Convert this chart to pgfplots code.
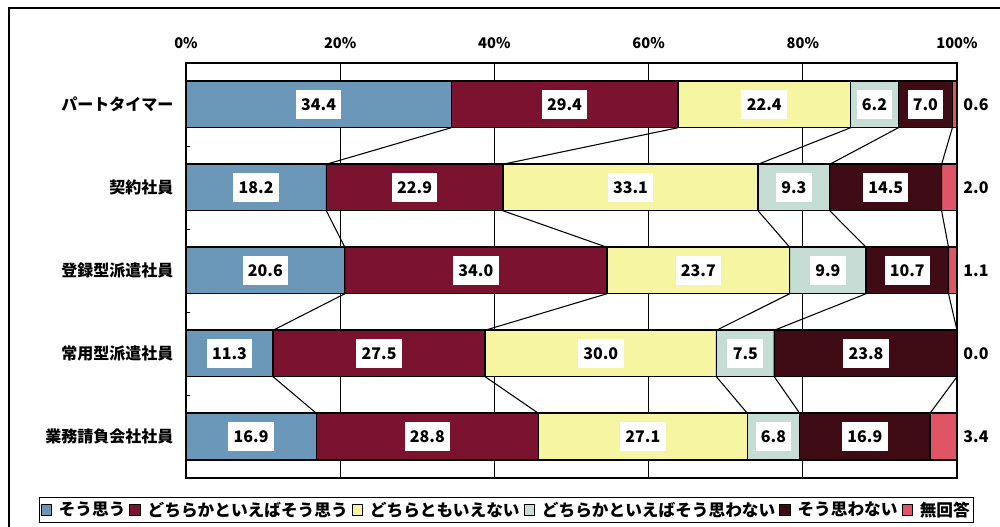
\documentclass[border=0pt]{standalone}
\usepackage{fontspec}
\setmainfont{Noto Sans CJK JP}
\usepackage{pgfplots}
\pgfplotsset{compat=1.18}

\definecolor{c1}{HTML}{6B97B8}
\definecolor{c2}{HTML}{7B1230}
\definecolor{c3}{HTML}{F6F6A2}
\definecolor{c4}{HTML}{C6DDD6}
\definecolor{c5}{HTML}{3F0B15}
\definecolor{c6}{HTML}{E05566}

\begin{document}
\begin{tikzpicture}
% page = 1000x527 px at 0.75pt per px, axis box origin at px (186,478)
\useasboundingbox (-139.5pt,-36.75pt) rectangle (610.5pt,358.5pt);
\draw[line width=1.3pt] (615pt,352.5pt) -- (-132.75pt,352.5pt) -- (-132.75pt,-40pt);

\begin{axis}[
  at={(0,0)}, anchor=south west,
  scale only axis, width=578.25pt, height=311.25pt,
  xbar stacked, bar width=35pt,
  xmin=0, xmax=100, ymin=-0.5, ymax=4.5, y dir=reverse,
  axis line style={line width=1.1pt},
  xtick={0,20,40,60,80,100},
  xticklabels={0\%,20\%,40\%,60\%,80\%,100\%},
  xticklabel pos=upper, xtick pos=upper,
  major x tick style={draw=none},
  xticklabel style={font=\bfseries\fontsize{11}{11}\selectfont, yshift=7pt},
  xmajorgrids, major grid style={black, line width=0.8pt},
  ytick={0,1,2,3,4},
  yticklabels={パートタイマー,契約社員,登録型派遣社員,常用型派遣社員,業務請負会社社員},
  yticklabel style={font=\bfseries\fontsize{12}{12}\selectfont, xshift=-6pt},
  ytick pos=left,
  major y tick style={draw=none},
  minor ytick={0.5,1.5,2.5,3.5},
  minor tick length=3pt,
  minor y tick style={black, line width=0.7pt},
  legend columns=6,
  legend style={at={(axis description cs:0.4157,-0.046)}, anchor=north,
    draw=black, line width=0.9pt, inner sep=1pt,
    font=\bfseries\fontsize{12.5}{13}\selectfont,
    /tikz/every even column/.append style={column sep=1pt},
    /tikz/every odd column/.append style={column sep=3pt}},
  legend image code/.code={\draw[#1, draw=black, line width=0.7pt] (0pt,-4pt) rectangle (8pt,4pt);},
]
\addplot[fill=c1, draw=black, line width=1pt] coordinates {(34.4,0) (18.2,1) (20.6,2) (11.3,3) (16.9,4)};
\addplot[fill=c2, draw=black, line width=1pt] coordinates {(29.4,0) (22.9,1) (34.0,2) (27.5,3) (28.8,4)};
\addplot[fill=c3, draw=black, line width=1pt] coordinates {(22.4,0) (33.1,1) (23.7,2) (30.0,3) (27.1,4)};
\addplot[fill=c4, draw=black, line width=1pt] coordinates {(6.2,0) (9.3,1) (9.9,2) (7.5,3) (6.8,4)};
\addplot[fill=c5, draw=black, line width=1pt] coordinates {(7.0,0) (14.5,1) (10.7,2) (23.8,3) (16.9,4)};
\addplot[fill=c6, draw=black, line width=1pt] coordinates {(0.6,0) (2.0,1) (1.1,2) (0.0,3) (3.4,4)};
\legend{そう思う,どちらかといえばそう思う,どちらともいえない,どちらかといえばそう思わない,そう思わない,無回答}
\end{axis}

\begin{axis}[
  at={(0,0)}, anchor=south west,
  scale only axis, width=578.25pt, height=311.25pt,
  xmin=0, xmax=100, ymin=-0.5, ymax=4.5, y dir=reverse,
  hide axis, clip=false,
]
% connector lines between cumulative boundaries
\addplot[black, line width=0.8pt] coordinates {(34.4,0.28) (18.2,0.72) (18.2,1.28) (20.6,1.72) (20.6,2.28) (11.3,2.72) (11.3,3.28) (16.9,3.72)};
\addplot[black, line width=0.8pt] coordinates {(63.8,0.28) (41.1,0.72) (41.1,1.28) (54.6,1.72) (54.6,2.28) (38.8,2.72) (38.8,3.28) (45.7,3.72)};
\addplot[black, line width=0.8pt] coordinates {(86.2,0.28) (74.2,0.72) (74.2,1.28) (78.3,1.72) (78.3,2.28) (68.8,2.72) (68.8,3.28) (72.8,3.72)};
\addplot[black, line width=0.8pt] coordinates {(92.4,0.28) (83.5,0.72) (83.5,1.28) (88.2,1.72) (88.2,2.28) (76.3,2.72) (76.3,3.28) (79.6,3.72)};
\addplot[black, line width=0.8pt] coordinates {(99.4,0.28) (98.0,0.72) (98.0,1.28) (98.9,1.72) (98.9,2.28) (100.0,2.72) (100.0,3.28) (96.5,3.72)};
% value labels inside the segments
\addplot[draw=none, mark=none, nodes near coords, point meta=explicit symbolic,
  nodes near coords align={center},
  every node near coord/.append style={anchor=center, fill=white, text=black,
    inner xsep=4pt, minimum height=22pt, font=\bfseries\fontsize{12}{12}\selectfont}]
  table[meta=label] {
x y label
17.2 0 34.4
49.1 0 29.4
75.0 0 22.4
89.3 0 6.2
95.9 0 7.0
9.1 1 18.2
29.65 1 22.9
57.65 1 33.1
78.85 1 9.3
90.75 1 14.5
10.3 2 20.6
37.6 2 34.0
66.45 2 23.7
83.25 2 9.9
93.55 2 10.7
5.65 3 11.3
25.05 3 27.5
53.8 3 30.0
72.55 3 7.5
88.2 3 23.8
8.45 4 16.9
31.3 4 28.8
59.25 4 27.1
76.2 4 6.8
88.05 4 16.9
};
% 無回答 values outside the bars
\addplot[draw=none, mark=none, nodes near coords, point meta=explicit symbolic,
  nodes near coords align={west},
  every node near coord/.append style={anchor=west, text=black,
    inner xsep=0pt, font=\bfseries\fontsize{12}{12}\selectfont}]
  table[meta=label] {
x y label
100.8 0 0.6
100.8 1 2.0
100.8 2 1.1
100.8 3 0.0
100.8 4 3.4
};
\end{axis}
\end{tikzpicture}
\end{document}
